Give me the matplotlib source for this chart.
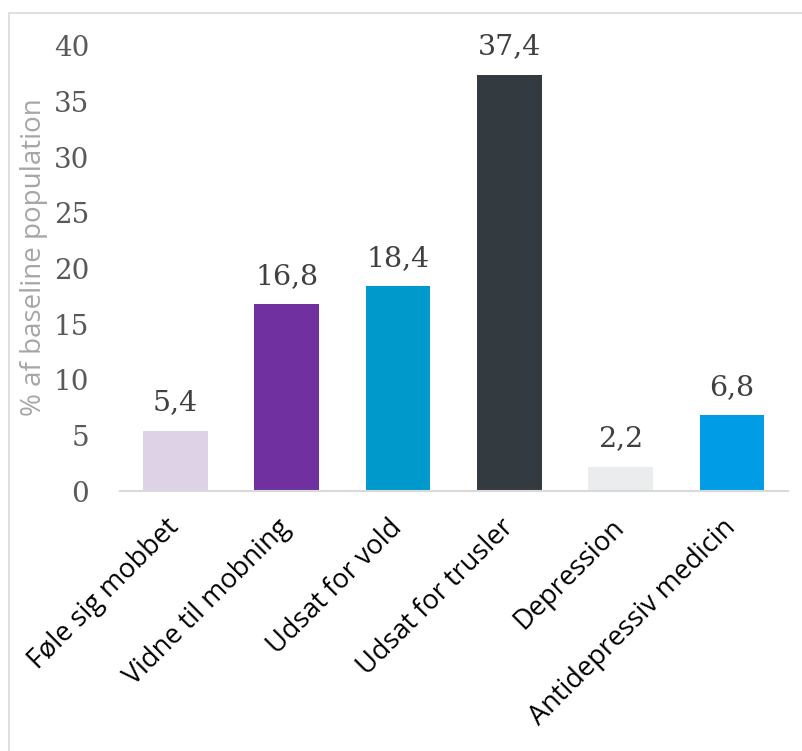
import matplotlib.pyplot as plt
import matplotlib.transforms as mtransforms
from matplotlib.patches import Rectangle

kategorier = ['Føle sig mobbet', 'Vidne til mobning', 'Udsat for vold',
              'Udsat for trusler', 'Depression', 'Antidepressiv medicin']
vaerdier = [5.4, 16.8, 18.4, 37.4, 2.2, 6.8]
farver = ['#DED3E6', '#7030A0', '#0099CC', '#333A40', '#EBECEE', '#009CE6']
y_ticks = [0, 5, 10, 15, 20, 25, 30, 35, 40]

fig = plt.figure(figsize=(8.03, 7.51), dpi=100)
ax = fig.add_axes([0.149, 0.346, 0.832, 0.593])

x = range(len(kategorier))
ax.bar(x, vaerdier, width=0.58, color=farver, zorder=2)

# dataetiketter med komma som decimaltegn
for i, v in zip(x, vaerdier):
    ax.text(i, v + 1.3, f'{v:.1f}'.replace('.', ','), ha='center', va='bottom',
            fontsize=20.5, family='DejaVu Serif', color='#404040')

ax.set_xlim(-0.5, len(kategorier) - 0.5)
ax.set_ylim(0, 40)
ax.set_yticks(y_ticks)
ax.set_yticklabels([str(t) for t in y_ticks], family='DejaVu Serif',
                   fontsize=20, color='#595959')
ax.set_xticks(list(x))
ax.set_xticklabels(kategorier, rotation=45, ha='right', rotation_mode='anchor',
                   family='Open Sans', fontsize=19.5, color='#000000')
ax.tick_params(axis='y', length=0, pad=22)
ax.tick_params(axis='x', length=0, pad=12)

# flyt kategorietiketterne lidt til venstre og ned
forskyd = mtransforms.ScaledTranslation(-0.1, -0.06, fig.dpi_scale_trans)
for lbl in ax.get_xticklabels():
    lbl.set_transform(lbl.get_transform() + forskyd)

for s in ['top', 'right', 'left']:
    ax.spines[s].set_visible(False)
ax.spines['bottom'].set_color('#D9D9D9')
ax.spines['bottom'].set_linewidth(1.5)

ax.set_ylabel('% af baseline population', family='Open Sans', fontsize=20,
              color='#A6A6A6')
ax.yaxis.set_label_coords(-0.107, 0.526)

# ramme rundt om figuren
fig.patches.append(Rectangle((9 / 803, -0.1), 1.2, 1.1 - 13 / 751,
                             transform=fig.transFigure, fill=False,
                             edgecolor='#D9D9D9', linewidth=1.2))

fig.savefig('out.png', dpi=100)
